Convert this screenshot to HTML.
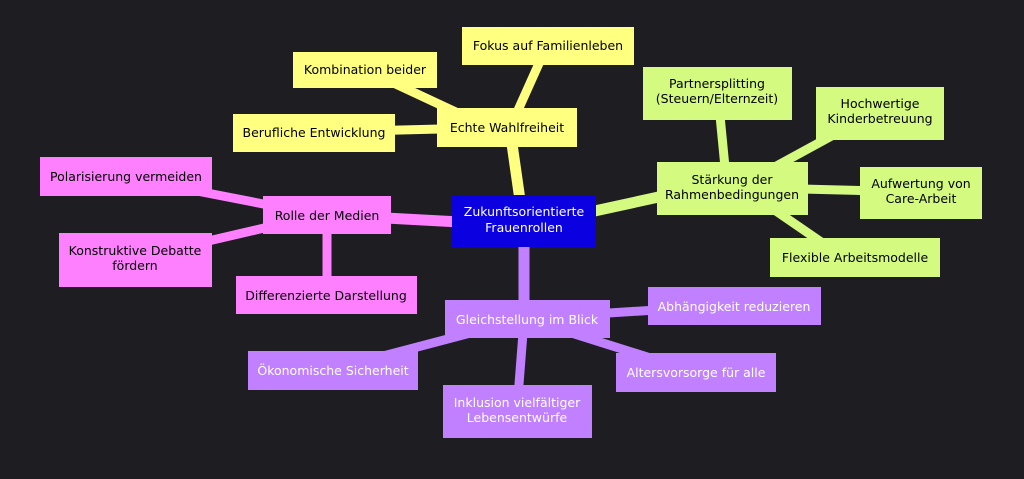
<!DOCTYPE html>
<html><head><meta charset="utf-8"><style>
html,body{margin:0;padding:0;background:#1e1e22;}
svg{display:block}
text{font-family:"DejaVu Sans","Liberation Sans",sans-serif;font-size:12.5px;text-anchor:middle;}
</style></head><body>
<svg width="1024" height="479" viewBox="0 0 1024 479" xmlns="http://www.w3.org/2000/svg">
<rect width="1024" height="479" fill="#1e1e22"/>
<g stroke-linecap="butt">
<!-- yellow -->
<line x1="520" y1="200" x2="510" y2="130" stroke="#ffff80" stroke-width="11"/>
<line x1="510" y1="128" x2="545" y2="50" stroke="#ffff80" stroke-width="9"/>
<line x1="490" y1="128" x2="370" y2="72" stroke="#ffff80" stroke-width="9"/>
<line x1="480" y1="128" x2="320" y2="132" stroke="#ffff80" stroke-width="9"/>
<!-- green -->
<line x1="590" y1="212" x2="700" y2="188" stroke="#d4fa80" stroke-width="11"/>
<line x1="727" y1="188" x2="718" y2="95" stroke="#d4fa80" stroke-width="9"/>
<line x1="760" y1="175" x2="870" y2="115" stroke="#d4fa80" stroke-width="9"/>
<line x1="760" y1="188" x2="920" y2="192" stroke="#d4fa80" stroke-width="9"/>
<line x1="760" y1="200" x2="840" y2="255" stroke="#d4fa80" stroke-width="9"/>
<!-- pink -->
<line x1="460" y1="222" x2="330" y2="215" stroke="#ff80ff" stroke-width="11"/>
<line x1="320" y1="215" x2="130" y2="178" stroke="#ff80ff" stroke-width="9"/>
<line x1="320" y1="215" x2="135" y2="258" stroke="#ff80ff" stroke-width="9"/>
<line x1="327" y1="215" x2="327" y2="295" stroke="#ff80ff" stroke-width="9"/>
<!-- purple -->
<line x1="524" y1="240" x2="524" y2="318" stroke="#c080ff" stroke-width="11"/>
<line x1="530" y1="318" x2="735" y2="305" stroke="#c080ff" stroke-width="9"/>
<line x1="520" y1="320" x2="330" y2="370" stroke="#c080ff" stroke-width="9"/>
<line x1="524" y1="320" x2="517" y2="410" stroke="#c080ff" stroke-width="9"/>
<line x1="530" y1="320" x2="695" y2="372" stroke="#c080ff" stroke-width="9"/>
</g>
<!-- center -->
<rect x="452" y="195" width="144" height="52" fill="#0a00e0"/>
<text x="524" y="216" fill="#fff">Zukunftsorientierte</text>
<text x="524" y="232" fill="#fff">Frauenrollen</text>
<!-- yellow -->
<g fill="#ffff80">
<rect x="437" y="108" width="140" height="39"/>
<rect x="462" y="27" width="172" height="38"/>
<rect x="293" y="52" width="144" height="36"/>
<rect x="233" y="114" width="162" height="38"/>
</g>
<g fill="#000">
<text x="507" y="132">Echte Wahlfreiheit</text>
<text x="548" y="50">Fokus auf Familienleben</text>
<text x="365" y="74">Kombination beider</text>
<text x="314" y="137">Berufliche Entwicklung</text>
</g>
<!-- green -->
<g fill="#d4fa80">
<rect x="657" y="162" width="151" height="53"/>
<rect x="643" y="67" width="149" height="53"/>
<rect x="816" y="87" width="128" height="53"/>
<rect x="860" y="167" width="122" height="52"/>
<rect x="770" y="238" width="170" height="39"/>
</g>
<g fill="#000">
<text x="732" y="184">Stärkung der</text>
<text x="732" y="199">Rahmenbedingungen</text>
<text x="717" y="88">Partnersplitting</text>
<text x="717" y="103">(Steuern/Elternzeit)</text>
<text x="880" y="108">Hochwertige</text>
<text x="880" y="123">Kinderbetreuung</text>
<text x="921" y="188">Aufwertung von</text>
<text x="921" y="203">Care-Arbeit</text>
<text x="855" y="262">Flexible Arbeitsmodelle</text>
</g>
<!-- pink -->
<g fill="#ff80ff">
<rect x="263" y="196" width="128" height="38"/>
<rect x="40" y="157" width="172" height="39"/>
<rect x="59" y="233" width="153" height="54"/>
<rect x="236" y="276" width="181" height="38"/>
</g>
<g fill="#000">
<text x="327" y="220">Rolle der Medien</text>
<text x="126" y="181">Polarisierung vermeiden</text>
<text x="135" y="255">Konstruktive Debatte</text>
<text x="135" y="270">fördern</text>
<text x="326" y="300">Differenzierte Darstellung</text>
</g>
<!-- purple -->
<g fill="#c080ff">
<rect x="445" y="300" width="165" height="38"/>
<rect x="648" y="287" width="173" height="38"/>
<rect x="248" y="351" width="170" height="39"/>
<rect x="443" y="385" width="149" height="53"/>
<rect x="616" y="353" width="160" height="39"/>
</g>
<g fill="#fff">
<text x="527" y="324">Gleichstellung im Blick</text>
<text x="734" y="311">Abhängigkeit reduzieren</text>
<text x="333" y="375">Ökonomische Sicherheit</text>
<text x="517" y="407">Inklusion vielfältiger</text>
<text x="517" y="422">Lebensentwürfe</text>
<text x="696" y="377">Altersvorsorge für alle</text>
</g>
</svg>
</body></html>
